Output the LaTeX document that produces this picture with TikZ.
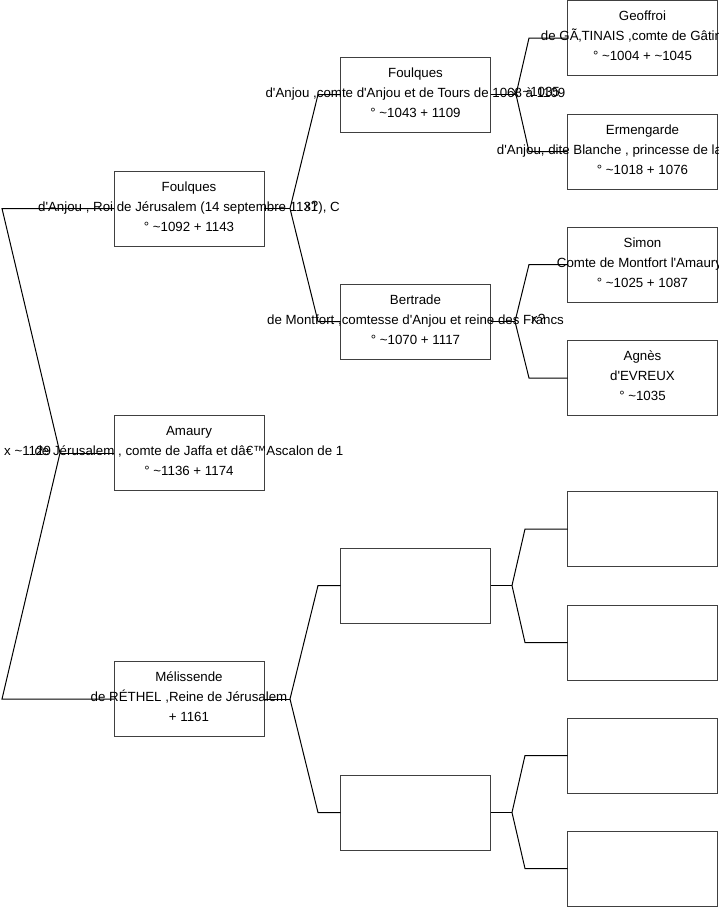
\documentclass[tikz,border=0pt]{standalone}
\usepackage{fontspec}
\setmainfont{Liberation Sans}
\newcommand{\apo}{\textquotesingle}
\newcommand{\tld}{\textasciitilde}

\begin{document}
\begin{tikzpicture}[x=1pt,y=-1pt,
  font=\fontsize{13.3}{20}\selectfont,
  person/.style={rectangle,draw=black!75,line width=1pt,
    minimum width=150pt,minimum height=75pt,inner sep=0pt,outer sep=0pt},
  who/.style={align=center,inner sep=0pt,yshift=2pt},
  link/.style={line width=1pt,black},
  wed/.style={anchor=west,inner sep=0pt}
]
\useasboundingbox (0,0) rectangle (719,908);

% First generation
\node[person] (foulquesA) at (189,208.5) {};
\node[person] (amaury) at (189,453) {};
\node[person] (melissende) at (189,699) {};

% Second generation
\node[person] (foulquesB) at (415.5,94.5) {};
\node[person] (bertrade) at (415.5,321.5) {};
\node[person] (emptyB1) at (415.5,585.5) {};
\node[person] (emptyB2) at (415.5,812.5) {};

% Third generation
\node[person] (geoffroi) at (642.5,38) {};
\node[person] (ermengarde) at (642.5,151.5) {};
\node[person] (simon) at (642.5,264.5) {};
\node[person] (agnes) at (642.5,378) {};
\node[person] (emptyC1) at (642.5,529) {};
\node[person] (emptyC2) at (642.5,642.5) {};
\node[person] (emptyC3) at (642.5,755.5) {};
\node[person] (emptyC4) at (642.5,868.5) {};

% Names and dates
\node[who] at (foulquesA) {Foulques\\d\apo Anjou , Roi de Jérusalem (14 septembre 1131), C\\° \tld1092 + 1143};
\node[who] at (amaury) {Amaury\\de Jérusalem , comte de Jaffa et dâ€™Ascalon de 1\\° \tld1136 + 1174};
\node[who] at (melissende) {Mélissende\\de RÉTHEL ,Reine de Jérusalem\\+ 1161};
\node[who] at (foulquesB) {Foulques\\d\apo Anjou ,comte d\apo Anjou et de Tours de 1068 à 1109\\° \tld1043 + 1109};
\node[who] at (bertrade) {Bertrade\\de Montfort ,comtesse d\apo Anjou et reine des Francs\\° \tld1070 + 1117};
\node[who] at (geoffroi) {Geoffroi\\de GÃ‚TINAIS ,comte de Gâtinais\rule{5pt}{0pt}\\° \tld1004 + \tld1045};
\node[who] at (ermengarde) {Ermengarde\\d\apo Anjou, dite Blanche , princesse de la\rule{66pt}{0pt}\\° \tld1018 + 1076};
\node[who] at (simon) {Simon\\Comte de Montfort l\apo Amaury\rule{6pt}{0pt}\\° \tld1025 + 1087};
\node[who] at (agnes) {Agnès\\d\apo EVREUX\\° \tld1035};

% Marriages
\node[wed] (wedA) at (4,451) {x \tld1129};
\node[wed] (wedB) at (304,206) {x?};
\node[wed] (wedC) at (512,92) {x \tld1035};
\node[wed] (wedD) at (531,319) {x?};

% Junctions and elbows
\coordinate (rootUp) at (2,208.5);
\coordinate (rootDown) at (2,699);
\coordinate (rootJ) at (60,453);
\coordinate (fAJ) at (290,208.5);
\coordinate (fAUp) at (318,94.5);
\coordinate (fADown) at (318,321.5);
\coordinate (mJ) at (290,699);
\coordinate (mUp) at (318,585.5);
\coordinate (mDown) at (318,812.5);
\coordinate (fBJ) at (516,94.5);
\coordinate (fBUp) at (529,38);
\coordinate (fBDown) at (529,151.5);
\coordinate (bJ) at (515,321.5);
\coordinate (bUp) at (529,264.5);
\coordinate (bDown) at (529,378);
\coordinate (e1J) at (512,585.5);
\coordinate (e1Up) at (525,529);
\coordinate (e1Down) at (525,642.5);
\coordinate (e2J) at (512,812.5);
\coordinate (e2Up) at (525,755.5);
\coordinate (e2Down) at (525,868.5);

% Connectors
\draw[link] (foulquesA.west) -- (rootUp) -- (rootJ) -- (rootDown) -- (melissende.west);
\draw[link] (rootJ) -- (amaury.west);
\draw[link] (foulquesA.east) -- (fAJ);
\draw[link] (foulquesB.west) -- (fAUp) -- (fAJ) -- (fADown) -- (bertrade.west);
\draw[link] (melissende.east) -- (mJ);
\draw[link] (emptyB1.west) -- (mUp) -- (mJ) -- (mDown) -- (emptyB2.west);
\draw[link] (foulquesB.east) -- (fBJ);
\draw[link] (geoffroi.west) -- (fBUp) -- (fBJ) -- (fBDown) -- (ermengarde.west);
\draw[link] (bertrade.east) -- (bJ);
\draw[link] (simon.west) -- (bUp) -- (bJ) -- (bDown) -- (agnes.west);
\draw[link] (emptyB1.east) -- (e1J);
\draw[link] (emptyC1.west) -- (e1Up) -- (e1J) -- (e1Down) -- (emptyC2.west);
\draw[link] (emptyB2.east) -- (e2J);
\draw[link] (emptyC3.west) -- (e2Up) -- (e2J) -- (e2Down) -- (emptyC4.west);

\end{tikzpicture}
\end{document}
